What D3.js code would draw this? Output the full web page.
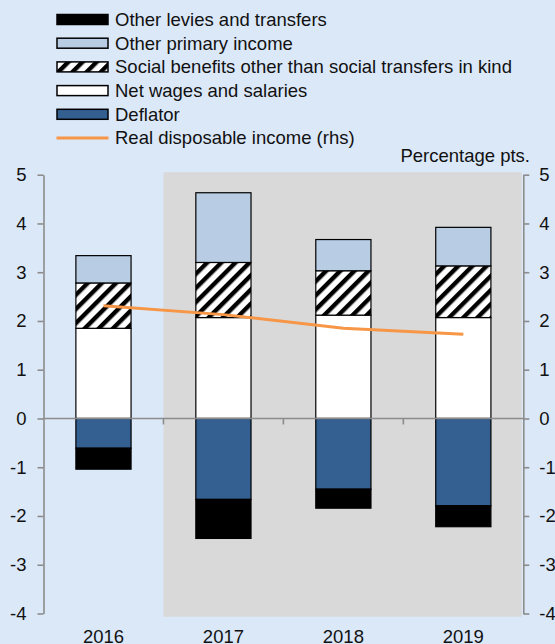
<!DOCTYPE html>
<html>
<head>
<meta charset="utf-8">
<script src="https://cdn.jsdelivr.net/npm/d3@7"></script>
<style>
  html, body { margin: 0; padding: 0; background: #dbe8f8; }
  svg { display: block; font-family: "Liberation Sans", Arial, sans-serif; }
</style>
</head>
<body>
<svg id="chart" width="555" height="644"></svg>
<script>
// ---- Data ----
const years = ["2016", "2017", "2018", "2019"];
const netWages = [1.85, 2.07, 2.12, 2.07];
const socialBenefits = [0.93, 1.13, 0.91, 1.06];
const otherPrimary = [0.56, 1.43, 0.64, 0.79];
const deflator = [-0.61, -1.66, -1.45, -1.79];
const otherLevies = [-0.43, -0.80, -0.39, -0.43];
const realIncome = [2.31, 2.13, 1.85, 1.73];
const yTicks = [-4, -3, -2, -1, 0, 1, 2, 3, 4, 5];
const shadedFrom = "2017";

const legendItems = [
  { label: "Other levies and transfers", type: "levies" },
  { label: "Other primary income", type: "other" },
  { label: "Social benefits other than social transfers in kind", type: "social" },
  { label: "Net wages and salaries", type: "wages" },
  { label: "Deflator", type: "deflator" },
  { label: "Real disposable income (rhs)", type: "line" }
];

const colors = {
  levies: "#000000",
  other: "#b8cce4",
  social: "url(#hatch)",
  wages: "#ffffff",
  deflator: "#335f91",
  line: "#f79646",
  shade: "#d9d9d9",
  axis: "#8c8c8c"
};

(function () {
const FS = "18.5px";
const svg = d3.select("#chart");
const mLeft = 43.5, mRight = 523.3, mTop = 174.7, mBottom = 613.5;

// hatch pattern
const defs = svg.append("defs");
const pat = defs.append("pattern")
  .attr("id", "hatch")
  .attr("patternUnits", "userSpaceOnUse")
  .attr("width", 10).attr("height", 10)
  .attr("patternTransform", "rotate(45)");
pat.append("rect").attr("width", 10).attr("height", 10).attr("fill", "#ffffff");
pat.append("rect").attr("x", 0).attr("width", 4.4).attr("height", 10).attr("fill", "#000000");

const x = d3.scaleBand().domain(years).range([mLeft, mRight]).paddingInner(0.54).paddingOuter(0.27);
const y = d3.scaleLinear().domain([-4, 5]).range([mBottom, mTop]);
const yR = d3.scaleLinear().domain([-4, 5]).range([mBottom, mTop]);
const step = x.step();
const half = (step - x.bandwidth()) / 2;

// shaded forecast region
svg.append("rect")
  .attr("x", x(shadedFrom) - half)
  .attr("y", y(5) - 2.4)
  .attr("width", (mRight - 1.6) - (x(shadedFrom) - half))
  .attr("height", y(-4) - y(5) + 5.6)
  .attr("fill", colors.shade);

// build stacks
const rows = years.map((yr, i) => {
  const segs = [];
  let pos = 0;
  [["wages", netWages[i]], ["social", socialBenefits[i]], ["other", otherPrimary[i]]].forEach(([k, v]) => {
    segs.push({ key: k, y0: pos, y1: pos + v }); pos += v;
  });
  let neg = 0;
  [["deflator", deflator[i]], ["levies", otherLevies[i]]].forEach(([k, v]) => {
    segs.push({ key: k, y0: neg, y1: neg + v }); neg += v;
  });
  return { year: yr, segs };
});

const g = svg.append("g");
rows.forEach(r => {
  g.selectAll(null).data(r.segs).enter().append("rect")
    .attr("x", x(r.year))
    .attr("width", x.bandwidth())
    .attr("y", d => y(Math.max(d.y0, d.y1)))
    .attr("height", d => Math.abs(y(d.y0) - y(d.y1)))
    .attr("fill", d => colors[d.key])
    .attr("stroke", "#000")
    .attr("stroke-width", 1.2);
});

// x axis line at zero with boundary ticks
const xAxisG = svg.append("g");
xAxisG.append("line")
  .attr("x1", mLeft).attr("x2", mRight)
  .attr("y1", y(0)).attr("y2", y(0))
  .attr("stroke", colors.axis).attr("stroke-width", 1.6);
years.slice(1).forEach(yr => {
  const bx = x(yr) - half;
  xAxisG.append("line")
    .attr("x1", bx).attr("x2", bx)
    .attr("y1", y(0)).attr("y2", y(0) + 6)
    .attr("stroke", colors.axis).attr("stroke-width", 1.6);
});

// line (rhs)
const line = d3.line().x((d, i) => x(years[i]) + x.bandwidth() / 2).y(d => yR(d));
svg.append("path")
  .datum(realIncome)
  .attr("d", line)
  .attr("fill", "none")
  .attr("stroke", colors.line)
  .attr("stroke-width", 3);

// y axes
function styleAxis(sel) {
  sel.select(".domain").attr("stroke", colors.axis).attr("stroke-width", 1.6);
  sel.selectAll(".tick line").attr("stroke", colors.axis).attr("stroke-width", 1.6);
  sel.selectAll(".tick text").attr("fill", "#111").style("font-size", FS)
    .style("font-family", '"Liberation Sans", Arial, sans-serif');
}
const yAxisL = d3.axisLeft(y).tickValues(yTicks).tickFormat(d3.format("d")).tickSize(6).tickSizeOuter(0).tickPadding(11);
svg.append("g").attr("transform", `translate(${mLeft},0)`).call(yAxisL).call(styleAxis);
const yAxisR = d3.axisRight(yR).tickValues(yTicks).tickFormat(d3.format("d")).tickSize(6).tickSizeOuter(0).tickPadding(10);
svg.append("g").attr("transform", `translate(${mRight},0)`).call(yAxisR).call(styleAxis);
svg.selectAll(".tick text").text(function() { return this.textContent.replace("\u2212", "-"); });

// x labels
svg.selectAll(".xlab").data(years).enter().append("text")
  .attr("x", d => x(d) + x.bandwidth() / 2)
  .attr("y", 642.5)
  .attr("text-anchor", "middle")
  .style("font-size", FS)
  .attr("fill", "#111")
  .text(d => d);

// units label
svg.append("text")
  .attr("x", 530).attr("y", 162)
  .attr("text-anchor", "end")
  .style("font-size", FS)
  .attr("fill", "#111")
  .text("Percentage pts.");

// legend
const lg = svg.append("g");
legendItems.forEach((it, i) => {
  const cy = 19.5 + i * 23.7;
  if (it.type === "line") {
    lg.append("line").attr("x1", 56.5).attr("x2", 108.5).attr("y1", cy).attr("y2", cy)
      .attr("stroke", colors.line).attr("stroke-width", 3);
  } else {
    lg.append("rect").attr("x", 57).attr("y", cy - 5).attr("width", 51).attr("height", 10)
      .attr("fill", colors[it.type]).attr("stroke", "#000").attr("stroke-width", 1.5);
  }
  lg.append("text").attr("x", 115).attr("y", cy).attr("dy", "0.35em")
    .style("font-size", FS).attr("fill", "#111").text(it.label);
});
})();
</script>
</body>
</html>
